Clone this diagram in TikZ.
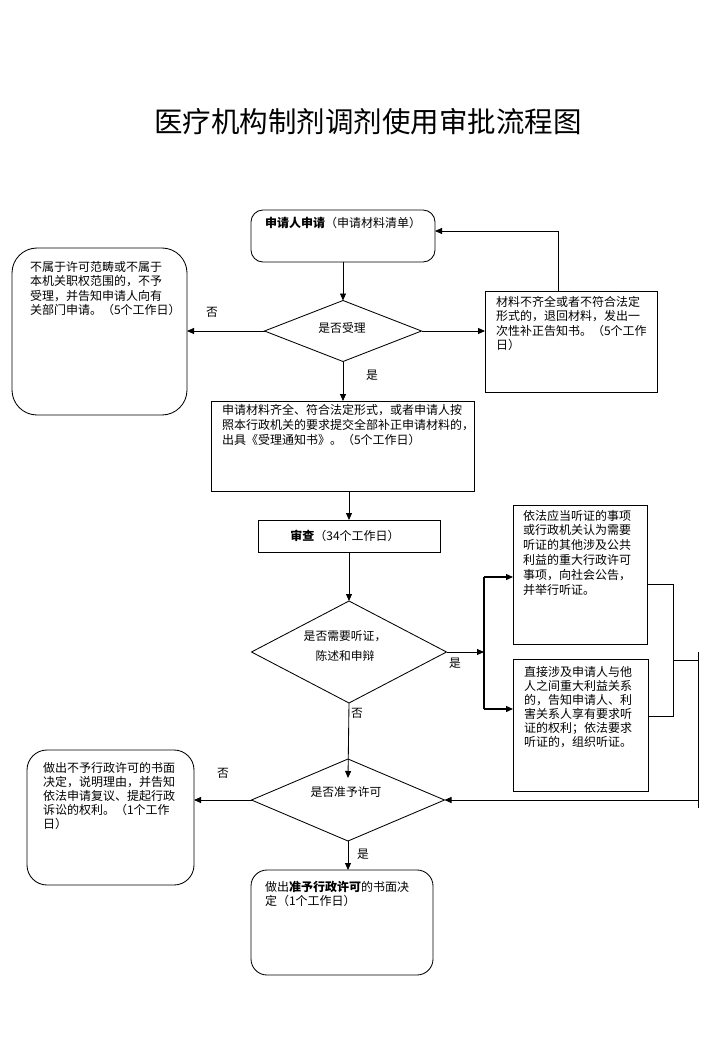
\documentclass[tikz,border=0pt]{standalone}
\usepackage{fontspec}
\setmainfont{Noto Sans CJK SC}
\usetikzlibrary{shapes.geometric,arrows.meta,calc}
\begin{document}
\begin{tikzpicture}[x=1pt,y=-1pt,line width=0.85pt,
  boxnode/.style={draw,rectangle,inner sep=0pt,outer sep=0pt,anchor=north west},
  dia/.style={draw,diamond,inner sep=0pt,outer sep=0pt,align=center,font=\fontsize{11.5}{20}\selectfont},
  txt/.style={inner sep=0pt,outer sep=0pt,anchor=north west,align=left,font=\fontsize{12}{14.5}\selectfont},
  lbl/.style={inner sep=0pt,font=\fontsize{11.8}{14}\selectfont},
  arr/.style={-{Triangle[length=7pt,width=6pt]}},
  harr/.style={line width=1.3pt,-{Triangle[length=7pt,width=6pt]}}
]
\useasboundingbox (0,0) rectangle (720,1040);

% title
\node[inner sep=0pt,font=\fontsize{28.5}{30}\selectfont] (title) at (368,122) {医疗机构制剂调剂使用审批流程图};

% boxes
\node[boxnode,rounded corners=12pt,minimum width=184pt,minimum height=52pt] (b1) at (251,210) {};
\node[txt] (t1) at (265,217) {\textbf{申请人申请}（申请材料清单）};

\node[boxnode,rounded corners=25pt,minimum width=175pt,minimum height=167pt] (b2) at (12,248) {};
\node[txt] (t2) at (30,261) {不属于许可范畴或不属于\\本机关职权范围的，不予\\受理，并告知申请人向有\\关部门申请。（5个工作日）};

\node[boxnode,minimum width=172pt,minimum height=101pt] (b3) at (485,291) {};
\node[txt] (t3) at (496,296) {材料不齐全或者不符合法定\\形式的，退回材料，发出一\\次性补正告知书。（5个工作\\日）};

\node[boxnode,minimum width=263pt,minimum height=90pt] (b4) at (211,401) {};
\node[txt,font=\fontsize{12}{15}\selectfont] (t4) at (222,404) {申请材料齐全、符合法定形式，或者申请人按\\照本行政机关的要求提交全部补正申请材料的，\\出具《受理通知书》。（5个工作日）};

\node[boxnode,minimum width=182pt,minimum height=32pt] (b5) at (258,520) {};
\node[lbl,font=\fontsize{12}{14}\selectfont] (t5) at (345,536) {\textbf{审查}（34个工作日）};

\node[boxnode,minimum width=134pt,minimum height=139pt] (b6) at (513,505) {};
\node[txt,font=\fontsize{12}{14.8}\selectfont] (t6) at (523,510) {依法应当听证的事项\\或行政机关认为需要\\听证的其他涉及公共\\利益的重大行政许可\\事项，向社会公告，\\并举行听证。};

\node[boxnode,minimum width=135pt,minimum height=132pt] (b7) at (513,659) {};
\node[txt,font=\fontsize{12}{14}\selectfont] (t7) at (524,666) {直接涉及申请人与他\\人之间重大利益关系\\的，告知申请人、利\\害关系人享有要求听\\证的权利；依法要求\\听证的，组织听证。};

\node[boxnode,rounded corners=20pt,minimum width=167pt,minimum height=135pt] (b8) at (27,750) {};
\node[txt,font=\fontsize{12}{14.2}\selectfont] (t8) at (43,762) {做出不予行政许可的书面\\决定，说明理由，并告知\\依法申请复议、提起行政\\诉讼的权利。（1个工作\\日）};

\node[boxnode,rounded corners=16pt,minimum width=182pt,minimum height=105pt] (b9) at (251,870) {};
\node[txt,font=\fontsize{12}{14}\selectfont] (t9) at (265,881) {做出\textbf{准予行政许可}的书面决\\定（1个工作日）};

% diamonds
\node[dia,minimum width=157pt,minimum height=61pt] (d1) at (343,331) {};
\node[lbl] (t11) at (342,328) {是否受理};
\node[dia,minimum width=195pt,minimum height=102pt] (d2) at (349,652) {};
\node[lbl,align=center,font=\fontsize{11.8}{20}\selectfont] (t12) at (345,646) {是否需要听证，\\陈述和申辩};
\node[dia,minimum width=193pt,minimum height=82pt] (d3) at (348,800) {};
\node[lbl] (t10) at (346,792) {是否准予许可};

% labels
\node[lbl] (l1) at (212,312) {否};
\node[lbl] (l2) at (372,375) {是};
\node[lbl] (l3) at (455,663) {是};
\node[lbl] (l4) at (357,713) {否};
\node[lbl] (l5) at (223,773) {否};
\node[lbl] (l6) at (363,854) {是};

% helper coordinates
\coordinate (fb) at (558,231);
\coordinate (j1) at (484,652);
\coordinate (j6) at (484,577);
\coordinate (j7) at (484,709);
\coordinate (k1) at (673,584);
\coordinate (k2) at (673,716);
\coordinate (k3) at (698,660);
\coordinate (k4) at (698,652);
\coordinate (k5) at (698,808);
\coordinate (k6) at (698,800);
\coordinate (d3in) at (348,778);

% connectors
\draw[arr] (b1.south -| d1.north) -- (d1.north);
\draw[arr] (d1.west) -- (d1.west -| b2.east);
\draw[arr] (d1.east) -- (d1.east -| b3.west);
\draw[arr] (b3.north -| fb) -- (fb) -- (b1.east |- fb);
\draw[arr] (d1.south) -- (d1.south |- b4.north);
\draw[arr] (b5.north |- b4.south) -- (b5.north);
\draw[arr] (b5.south -| d2.north) -- (d2.north);
\draw[arr] (d2.east) -- (j1);
\draw[line width=1.3pt] (j6) -- (j7);
\draw[harr] (j6) -- (j6 -| b6.west);
\draw[harr] (j7) -- (j7 -| b7.west);
\draw (b6.east |- k1) -- (k1) -- (k2) -- (k2 -| b7.east);
\draw (k1 |- k3) -- (k3);
\draw (k4) -- (k5);
\draw[arr] (k6) -- (d3.east);
\draw[arr] (d2.south) -- (d3in);
\draw[arr] (d3.west) -- (d3.west -| b8.east);
\draw[arr] (d3.south) -- (d3.south |- b9.north);
\end{tikzpicture}
\end{document}
